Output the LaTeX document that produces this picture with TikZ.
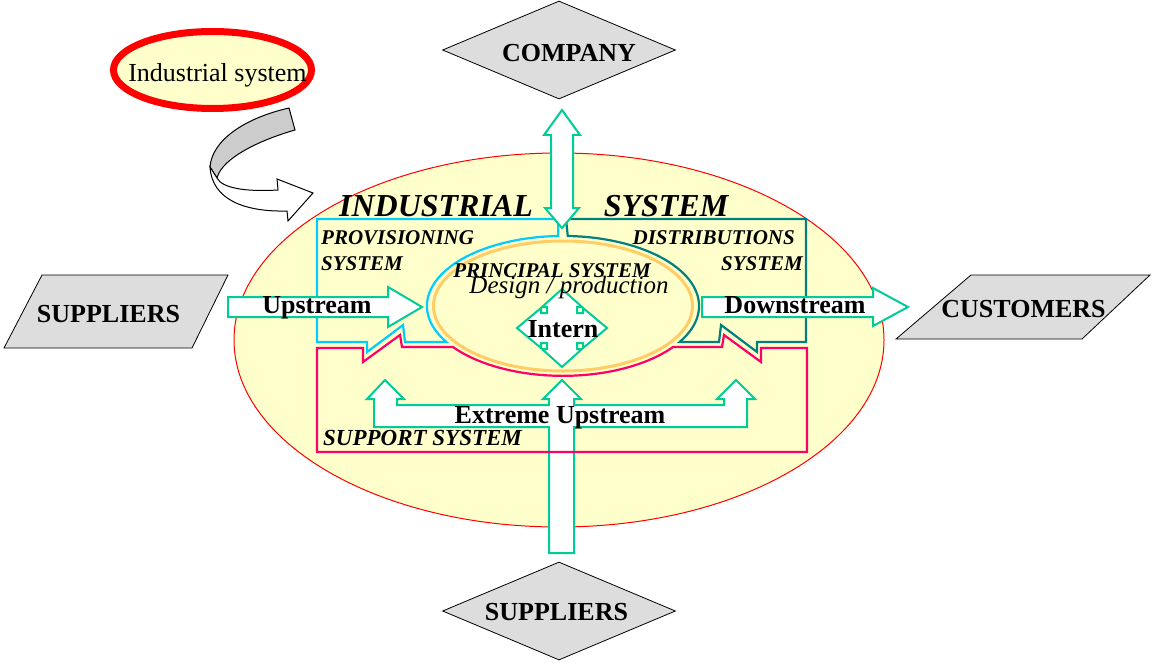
\documentclass[tikz,border=0pt]{standalone}
\usepackage{fontspec}
\setmainfont{Liberation Serif}
\usetikzlibrary{shapes.geometric}

\definecolor{paleyellow}{RGB}{255,255,204}
\definecolor{flowgreen}{RGB}{0,204,153}
\definecolor{provcyan}{RGB}{0,204,255}
\definecolor{distteal}{RGB}{0,128,128}
\definecolor{supppink}{RGB}{255,0,102}
\definecolor{princorange}{RGB}{255,204,102}
\definecolor{boxgray}{RGB}{221,221,221}
\definecolor{bandgray}{RGB}{204,204,204}

\newcommand{\bigbf}{\fontsize{26}{28}\selectfont\bfseries}
\newcommand{\sysbi}{\fontsize{21}{23}\selectfont\bfseries\itshape}
\newcommand{\titlebi}{\fontsize{32}{34}\selectfont\bfseries\itshape}

\begin{document}
\begin{tikzpicture}[
    x=1pt, y=1pt,
    edge/.style     = {line width=2.2pt, line join=miter},
    flow/.style     = {draw=flowgreen, line width=2pt, fill=white, line join=miter},
    entity/.style   = {draw, line width=0.8pt, fill=boxgray, inner sep=0pt},
    entname/.style  = {font=\bigbf, inner sep=0pt, anchor=base},
    sysname/.style  = {font=\sysbi, inner sep=0pt, anchor=base west},
    flowname/.style = {font=\bigbf, inner sep=0pt, anchor=base}
]
\useasboundingbox (0,0) rectangle (1155,-663);

% legend: industrial system + curved arrow
\node[ellipse, draw=red, line width=7pt, fill=paleyellow, inner sep=0pt,
      minimum width=198pt, minimum height=77pt] (indlegend) at (212.5,-70) {};
\node[font=\fontsize{26}{28}\selectfont, inner sep=0pt, anchor=base] (indlegendtxt) at (217.5,-82) {Industrial system};
\draw[line width=1pt, fill=bandgray] (289,-108) -- (295,-130)
    .. controls (260,-140) and (222,-158) .. (217,-178) -- (210,-167)
    .. controls (212,-140) and (245,-118) .. (289,-108) -- cycle;
\draw[line width=1pt, fill=white] (210,-167) .. controls (212,-200) and (245,-212) .. (287,-211)
    -- (288,-221) -- (313,-193) -- (277,-179) -- (278,-190)
    .. controls (245,-192) and (222,-188) .. (217,-178) -- cycle;

% whole industrial system
\node[ellipse, draw=red, line width=1pt, fill=paleyellow, inner sep=0pt,
      minimum width=650pt, minimum height=374pt] (indsys) at (559,-340) {};

% provisioning and distributions systems
\draw[edge, provcyan] (558,-219) -- (317,-219) -- (317,-342) -- (367,-342) -- (367,-352)
    -- (403,-325) -- (405,-342) -- (446.4,-342)
    arc[start angle=211, end angle=92, x radius=136, y radius=70] -- cycle;
\draw[edge, distteal] (566,-219) -- (806,-219) -- (806,-342) -- (757,-342) -- (757,-352)
    -- (721,-325) -- (719,-342) -- (679.6,-342)
    arc[start angle=-31, end angle=88, x radius=136, y radius=70] -- cycle;

% principal system
\node[ellipse, draw=princorange, line width=3pt, fill=paleyellow, inner sep=0pt,
      minimum width=259pt, minimum height=130pt] (principal) at (563,-306) {};

% extreme upstream arrow
\draw[flow] (549,-553) -- (549,-427) -- (374,-427) -- (374,-399) -- (367,-399)
    -- (385,-380) -- (404,-399) -- (397,-399) -- (397,-405) -- (549,-405)
    -- (549,-399) -- (543,-399) -- (562,-380) -- (581,-399) -- (574,-399)
    -- (574,-405) -- (724,-405) -- (724,-399) -- (717,-399) -- (736,-380)
    -- (755,-399) -- (747,-399) -- (747,-427) -- (574,-427) -- (574,-553) -- cycle;

% support system
\draw[edge, supppink] (453,-347) -- (402,-347) -- (400,-335) -- (363,-362) -- (363,-348)
    -- (317,-348) -- (317,-452) -- (807,-452) -- (807,-348) -- (761,-348)
    -- (761,-362) -- (724,-335) -- (722,-347) -- (673,-347)
    arc[start angle=324, end angle=216, x radius=136, y radius=70];

% flows
\draw[flow] (228,-297) -- (388,-297) -- (388,-287) -- (422,-307)
    -- (388,-327) -- (388,-317) -- (228,-317) -- cycle;
\draw[flow] (702,-297) -- (873,-297) -- (873,-288) -- (908,-307)
    -- (873,-326) -- (873,-317) -- (702,-317) -- cycle;
\draw[flow] (562,-110) -- (580,-135) -- (573,-135) -- (573,-208) -- (579,-208)
    -- (562,-228) -- (545,-208) -- (551,-208) -- (551,-135) -- (544,-135) -- cycle;
\draw[flow, shift={(562,-328)}] (0,39) -- (20,21) -- (15,21) -- (15,15) -- (21,15)
    -- (21,20) -- (45,0) -- (21,-20) -- (21,-15) -- (15,-15) -- (15,-21)
    -- (20,-21) -- (0,-39) -- (-20,-21) -- (-15,-21) -- (-15,-15) -- (-21,-15)
    -- (-21,-20) -- (-45,0) -- (-21,20) -- (-21,15) -- (-15,15) -- (-15,21)
    -- (-20,21) -- cycle;

% outside entities
\node[entity, diamond, minimum width=233pt, minimum height=98pt] (company) at (559,-50) {};
\node[entity, diamond, minimum width=233pt, minimum height=98pt] (suppbottom) at (559,-611) {};
\draw[entity] (4,-348) -- (42,-275) -- (228,-275) -- (192,-348) -- cycle;
\draw[entity] (896,-339) -- (971,-275) -- (1150,-275) -- (1082,-339) -- cycle;
\node[entname] (companytxt) at (569,-62) {COMPANY};
\node[entname] (suppbottomtxt) at (556.5,-620) {SUPPLIERS};
\node[entname] (suppleft) at (108.5,-322) {SUPPLIERS};
\node[entname] (customers) at (1023.5,-317) {CUSTOMERS};

% system names
\node[font=\titlebi, inner sep=0pt, anchor=base] (indtitle) at (436,-216) {INDUSTRIAL};
\node[font=\titlebi, inner sep=0pt, anchor=base] (systitle) at (666,-216) {SYSTEM};
\node[sysname] (provname) at (321,-244) {PROVISIONING};
\node[sysname] (provsys) at (321,-270) {SYSTEM};
\node[sysname, anchor=base east] (distname) at (795,-244) {DISTRIBUTIONS};
\node[sysname, anchor=base east] (distsys) at (803,-270) {SYSTEM};
\node[sysname, anchor=base] (princname) at (552,-277) {PRINCIPAL SYSTEM};
\node[font=\fontsize{25}{27}\selectfont\itshape, inner sep=0pt, anchor=base] (design) at (569,-293) {Design / production};
\node[font=\fontsize{23}{25}\selectfont\bfseries\itshape, inner sep=0pt, anchor=base west] (suppname) at (323,-445) {SUPPORT SYSTEM};

% flow names
\node[flowname] (intern) at (563,-337) {Intern};
\node[flowname] (upname) at (317,-313) {Upstream};
\node[flowname] (downname) at (795,-313) {Downstream};
\node[flowname] (extname) at (560,-423) {Extreme Upstream};

\end{tikzpicture}
\end{document}
